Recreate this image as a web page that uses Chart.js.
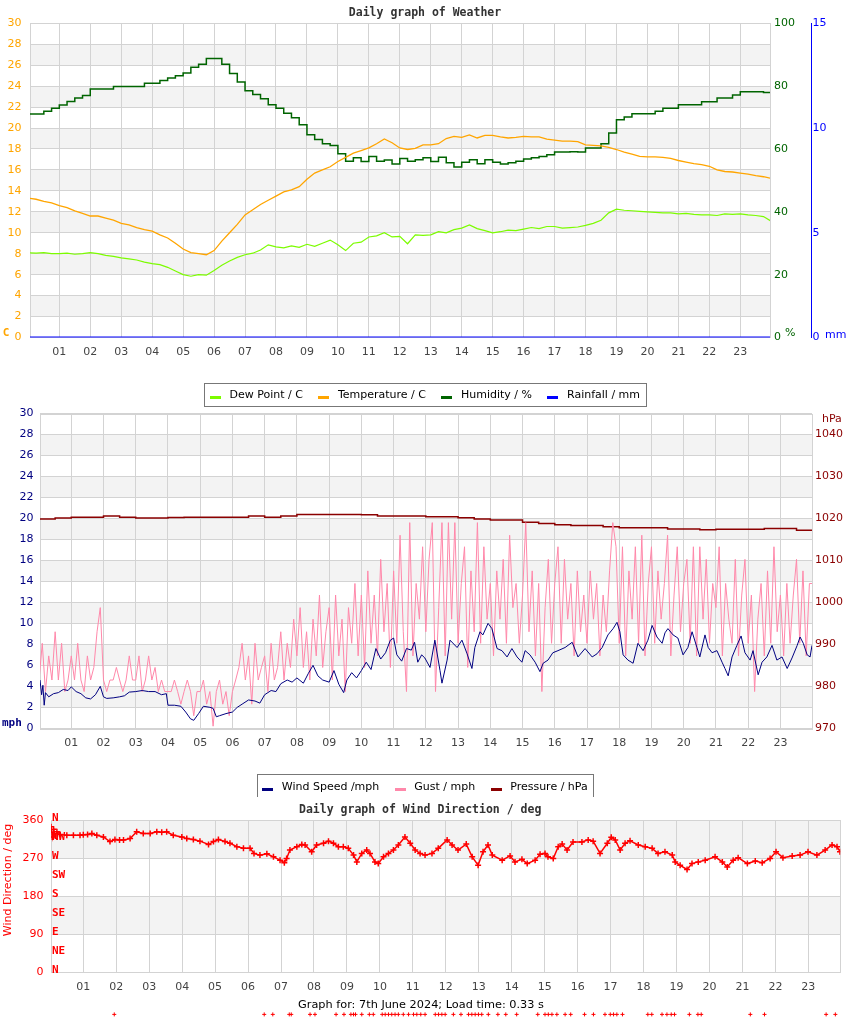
<!DOCTYPE html>
<html>
<head>
<meta charset="utf-8">
<script src="https://cdn.jsdelivr.net/npm/chart.js@4.4.1/dist/chart.umd.min.js"></script>
<style>
html,body{margin:0;padding:0;background:#fff;}
body{width:850px;height:1017px;position:relative;overflow:hidden;}
canvas{position:absolute;left:0;display:block;}
#c1{top:0;z-index:2;}
#c2{top:394px;z-index:1;}
#c3{top:797px;z-index:3;}
</style>
</head>
<body>
<canvas id="c1" width="850" height="411"></canvas>
<canvas id="c2" width="850" height="409"></canvas>
<canvas id="c3" width="850" height="220"></canvas>
<script>
// ---------------- DATA ----------------
const hourTicks = [1,2,3,4,5,6,7,8,9,10,11,12,13,14,15,16,17,18,19,20,21,22,23];
const hourLabels = ['01','02','03','04','05','06','07','08','09','10','11','12','13','14','15','16','17','18','19','20','21','22','23'];

// Weather chart: samples every 0.25 h from 00:00 to 24:00
const weatherStepHours = 0.25;
const temperature = [
  13.3,13.2,13.0,12.85, 12.6,12.4,12.1,11.85, 11.6,11.6,11.4,11.2, 10.9,10.75,10.5,10.3,
  10.15,9.8,9.5,9.0, 8.45,8.1,8.0,7.9, 8.3,9.2,10.0,10.8, 11.7,12.2,12.7,13.1,
  13.5,13.9,14.1,14.4, 15.1,15.7,16.0,16.3, 16.8,17.2,17.6,17.85, 18.1,18.5,18.95,18.6,
  18.1,17.95,18.05,18.4, 18.4,18.5,19.0,19.2, 19.1,19.35,19.05,19.3, 19.3,19.15,19.05,19.1,
  19.2,19.15,19.15,18.95, 18.85,18.75,18.75,18.7, 18.4,18.35,18.3,18.15, 17.95,17.7,17.5,17.3,
  17.25,17.25,17.2,17.1, 16.9,16.75,16.6,16.5, 16.35,16.0,15.85,15.8, 15.7,15.6,15.45,15.35, 15.2
];
const dewPoint = [
  8.1,8.05,8.1,8.0, 8.0,8.05,7.95,8.0, 8.1,8.0,7.85,7.75, 7.6,7.5,7.4,7.2,
  7.05,6.95,6.7,6.35, 6.0,5.85,6.0,5.95, 6.4,6.9,7.3,7.65, 7.9,8.05,8.35,8.85,
  8.65,8.55,8.75,8.6, 8.9,8.7,9.0,9.3, 8.85,8.3,9.0,9.1, 9.6,9.7,10.0,9.6,
  9.65,8.95,9.8,9.75, 9.8,10.1,10.0,10.3, 10.45,10.75,10.4,10.2, 10.0,10.1,10.25,10.2,
  10.35,10.5,10.4,10.6, 10.6,10.45,10.5,10.55, 10.7,10.9,11.2,11.9, 12.25,12.15,12.1,12.05,
  12.0,11.95,11.9,11.9, 11.8,11.85,11.75,11.7, 11.7,11.65,11.8,11.75, 11.8,11.7,11.65,11.55, 11.1
];
const humidity = [
  71.1,71.1,72.0,73.0, 74.0,75.1,76.2,77.0, 79.1,79.1,79.1,79.9, 79.9,79.9,79.9,80.9,
  80.9,81.8,82.6,83.3, 84.2,86.0,87.0,88.8, 88.8,87.0,84.0,81.3, 78.5,77.3,76.0,74.1,
  73.0,71.4,69.9,67.7, 64.5,63.0,61.7,61.1, 58.5,56.1,57.2,56.0, 57.6,56.1,56.5,55.2,
  57.0,56.1,56.6,57.2, 56.0,57.4,55.6,54.3, 55.8,56.6,55.3,56.6, 55.8,55.2,55.6,56.1,
  56.8,57.2,57.6,58.2, 59.0,59.0,59.1,59.0, 60.3,60.3,61.7,65.1, 69.3,70.2,71.2,71.2,
  71.2,72.0,73.0,73.0, 74.1,74.1,74.1,75.0, 75.0,76.2,76.2,77.2, 78.2,78.2,78.2,78.0, 76.0
];
const rainfallSamples = [[0,0],[24,0]];

// Wind chart
const windSpeedSamples = [
  [0.03,4.6],[0.08,3.2],[0.12,4.1],[0.16,2.2],[0.2,3.4],[0.3,3.0],[0.45,3.3],[0.6,3.4],[0.75,3.7],[0.9,3.6],
  [1.0,3.95],[1.15,3.5],[1.3,3.3],[1.45,2.9],[1.6,2.8],[1.75,3.2],[1.9,4.0],[2.0,3.0],[2.1,2.85],[2.3,2.9],
  [2.5,3.0],[2.65,3.1],[2.8,3.45],[3.0,3.5],[3.2,3.6],[3.4,3.5],[3.6,3.5],[3.8,3.2],[3.95,3.3],[4.0,2.2],
  [4.2,2.2],[4.4,2.1],[4.55,1.55],[4.7,0.9],[4.8,0.76],[4.95,1.4],[5.1,2.1],[5.3,2.0],[5.4,1.9],[5.5,1.1],
  [5.6,1.2],[5.8,1.4],[6.0,1.55],[6.15,2.0],[6.3,2.3],[6.5,2.7],[6.7,2.6],[6.85,2.4],[7.0,3.2],[7.2,3.6],
  [7.35,3.5],[7.5,4.25],[7.7,4.6],[7.85,4.4],[8.0,4.8],[8.2,4.3],[8.35,5.2],[8.5,6.0],[8.65,5.0],[8.8,4.6],
  [9.0,4.4],[9.15,5.5],[9.3,4.2],[9.45,3.4],[9.55,4.6],[9.7,5.3],[9.85,4.8],[10.0,5.5],[10.15,6.3],[10.3,5.6],
  [10.45,7.6],[10.6,6.6],[10.75,7.2],[10.9,8.4],[11.0,8.6],[11.1,7.0],[11.25,6.4],[11.4,7.6],[11.55,7.45],[11.65,8.2],
  [11.75,6.3],[11.87,7.0],[11.97,6.7],[12.13,5.8],[12.28,8.4],[12.44,5.5],[12.5,4.3],[12.66,6.5],[12.75,8.4],[12.97,7.7],
  [13.12,8.4],[13.28,7.1],[13.43,5.7],[13.52,7.7],[13.68,9.2],[13.77,8.9],[13.93,10.0],[14.05,9.5],[14.21,7.6],[14.36,7.4],
  [14.52,6.8],[14.67,7.6],[14.83,6.8],[14.98,6.3],[15.08,7.4],[15.23,7.0],[15.39,6.3],[15.54,5.4],[15.64,6.2],[15.79,6.5],
  [15.94,7.2],[16.1,7.4],[16.32,7.7],[16.54,8.2],[16.72,6.8],[16.94,7.6],[17.16,6.8],[17.31,7.1],[17.47,7.7],[17.65,8.9],
  [17.81,9.5],[17.93,10.1],[18.02,9.2],[18.12,7.0],[18.27,6.5],[18.43,6.2],[18.58,8.1],[18.74,7.4],[18.89,8.4],[19.02,9.8],
  [19.17,8.7],[19.33,8.1],[19.42,9.1],[19.51,9.5],[19.67,8.9],[19.82,8.6],[19.98,7.0],[20.13,7.7],[20.26,9.2],[20.41,7.7],
  [20.5,6.8],[20.66,8.9],[20.76,7.7],[20.88,7.2],[21.03,7.4],[21.19,6.3],[21.28,5.7],[21.38,5.0],[21.5,6.8],[21.65,7.9],
  [21.78,8.8],[21.9,7.2],[22.06,6.5],[22.15,7.4],[22.31,5.1],[22.43,6.3],[22.58,6.8],[22.74,7.9],[22.89,6.5],[23.05,6.8],
  [23.21,5.7],[23.36,6.7],[23.52,7.9],[23.61,8.7],[23.71,8.1],[23.83,7.0],[23.92,6.8],[23.98,7.9]
];
// Gust: samples every 0.1 h
const gustStepHours = 0.1;
const gust = [
  4.6,8.1,3.5,6.9,4.6,9.2,4.6,8.1,3.5,4.6,
  6.9,4.6,8.1,4.6,3.5,6.9,4.6,5.8,9.2,11.5,
  4.6,3.5,4.6,4.6,5.8,4.6,3.5,4.6,6.9,4.6,
  4.6,6.9,3.5,4.6,6.9,4.6,5.8,3.5,4.6,3.5,
  3.5,3.5,4.6,3.5,2.3,3.5,4.6,3.5,1.2,3.5,
  3.5,4.6,2.3,3.5,0.2,3.5,4.6,2.3,3.5,1.2,
  3.5,4.6,5.8,8.1,4.6,6.9,2.3,8.1,4.6,5.8,
  6.9,3.5,8.1,4.6,5.8,9.2,4.6,8.1,5.8,10.4,
  6.9,11.5,5.8,9.2,4.6,10.4,6.9,12.7,5.8,9.2,
  11.5,4.6,12.7,6.9,10.4,3.5,11.5,8.1,13.8,6.9,
  12.7,5.8,15.0,8.1,12.7,6.9,16.1,9.2,13.8,5.8,
  15.0,8.1,18.4,9.2,3.5,19.6,6.9,13.8,10.4,17.3,
  9.2,16.1,19.6,3.5,11.5,19.6,6.9,19.6,10.4,19.6,
  8.1,13.8,17.3,5.8,15.0,9.2,19.6,8.1,17.3,10.4,
  13.8,6.9,15.0,10.4,16.1,8.1,18.4,11.5,13.8,8.1,
  12.7,19.6,9.2,15.0,6.9,13.8,3.5,11.5,16.1,8.1,
  13.8,17.3,8.1,16.1,10.4,13.8,6.9,15.0,9.2,12.7,
  8.1,15.0,10.4,13.8,6.9,12.7,9.2,15.0,19.6,17.3,
  8.1,17.3,6.9,15.0,10.4,17.3,8.1,18.4,6.9,13.8,
  17.3,8.1,15.0,10.4,13.8,18.4,6.9,12.7,17.3,9.2,
  13.8,16.1,8.1,17.3,6.9,17.3,10.4,16.1,8.1,13.8,
  11.5,17.3,6.9,13.8,10.4,8.1,16.1,6.9,12.7,16.1,
  8.1,12.7,3.5,10.4,13.8,6.9,15.0,8.1,17.3,9.2,
  12.7,6.9,13.8,8.1,12.7,16.1,8.1,15.0,6.9,13.8,
  13.8
];
// Pressure: samples every 0.5 h
const pressureStepHours = 0.5;
const pressure = [
  1019.85,1020.1,1020.3,1020.3,1020.55,1020.3,1020.1,1020.1,1020.2,1020.3,
  1020.3,1020.3,1020.3,1020.55,1020.3,1020.6,1020.95,1020.95,1020.95,1020.95,
  1020.9,1020.6,1020.55,1020.55,1020.4,1020.4,1020.15,1019.85,1019.6,1019.6,
  1019.1,1018.8,1018.5,1018.3,1018.3,1018.0,1017.8,1017.8,1017.8,1017.5,
  1017.5,1017.3,1017.45,1017.45,1017.45,1017.6,1017.6,1017.2,1017.2
];
const pressureTicks = [970,980,990,1000,1010,1020,1030,1040];

// Wind direction chart
const windDirSamples = [
  [0.02,344],[0.06,320],[0.1,338],[0.15,322],[0.2,332],[0.3,326],[0.5,324],[0.7,324],[0.9,324],[1.0,325],
  [1.13,326],[1.26,328],[1.41,324],[1.61,320],[1.81,309],[1.96,314],[2.1,313],[2.22,313],[2.42,316],[2.62,332],
  [2.82,328],[3.03,328],[3.23,332],[3.38,331],[3.53,332],[3.73,324],[3.99,320],[4.14,316],[4.34,314],[4.54,310],
  [4.8,302],[4.95,309],[5.1,314],[5.3,309],[5.45,305],[5.66,297],[5.86,293],[6.06,293],[6.18,281],[6.36,277],
  [6.57,280],[6.77,273],[6.97,265],[7.1,259],[7.17,269],[7.27,289],[7.48,297],[7.63,302],[7.73,301],[7.93,285],
  [8.08,301],[8.29,305],[8.44,310],[8.59,305],[8.74,297],[8.89,297],[9.04,293],[9.2,277],[9.3,261],[9.45,281],
  [9.6,289],[9.7,281],[9.85,261],[9.95,257],[10.11,273],[10.26,281],[10.41,289],[10.56,301],[10.76,320],[10.92,305],
  [11.07,289],[11.22,281],[11.37,277],[11.58,281],[11.77,293],[12.04,313],[12.19,301],[12.37,289],[12.62,303],[12.8,273],
  [12.98,253],[13.13,285],[13.28,301],[13.41,277],[13.71,265],[13.95,275],[14.1,261],[14.31,267],[14.47,257],[14.71,265],
  [14.86,279],[15.01,281],[15.1,273],[15.26,269],[15.41,297],[15.53,303],[15.68,289],[15.86,308],[16.13,308],[16.32,313],
  [16.47,310],[16.68,281],[16.9,305],[17.02,319],[17.14,313],[17.29,289],[17.44,305],[17.59,311],[17.84,301],[18.05,297],
  [18.26,293],[18.44,281],[18.65,285],[18.87,277],[18.96,261],[19.11,253],[19.32,243],[19.47,257],[19.66,261],[19.87,265],
  [20.17,273],[20.39,261],[20.54,249],[20.72,265],[20.87,271],[21.15,257],[21.39,263],[21.6,259],[21.84,269],[22.02,285],
  [22.23,271],[22.51,275],[22.75,277],[22.99,285],[23.26,277],[23.51,289],[23.72,301],[23.87,297],[23.96,285]
];
// stray readings plotted below the axis in the original page
const strayDirValue = -99.5;
const strayDirHours = [
  1.94,6.49,6.75,7.25,7.31,7.88,8.03,8.67,8.91,9.12,9.2,9.26,9.45,9.68,9.8,10.07,10.16,10.26,10.36,10.46,
  10.56,10.71,10.87,11.02,11.12,11.24,11.37,11.68,11.78,11.88,11.98,12.23,12.46,12.69,12.79,12.89,12.99,13.09,
  13.29,13.58,13.82,14.15,14.79,15.01,15.11,15.22,15.37,15.62,15.79,16.21,16.48,16.83,16.99,17.09,17.19,17.36,
  18.13,18.25,18.56,18.71,18.84,18.94,19.39,19.65,19.75,21.24,21.67,23.54,23.82
];
const compassValues = [360,315,270,225,180,135,90,45,0];
const compassNames = ['N','NW','W','SW','S','SE','E','NE','N'];

// ---------------- HELPERS ----------------
const GRID = '#d3d3d3';
const MONO = '"DejaVu Sans Mono", monospace';
Chart.defaults.font.family = '"DejaVu Sans", sans-serif';
Chart.defaults.font.size = 11;
Chart.defaults.color = '#444';

const stepPts = (vals, step) => vals.map((v, i) => ({x: i * step, y: v}));
const pairPts = pairs => pairs.map(p => ({x: p[0], y: p[1]}));

function hourAxis(min, max, height) {
  return {
    type: 'linear', min: min, max: max,
    afterBuildTicks: s => { s.ticks = hourTicks.map(v => ({value: v})); },
    afterFit: s => { s.height = height; },
    ticks: {autoSkip: false, maxRotation: 0, padding: 8, color: '#444', font: {size: 11},
            callback: (v, i) => hourLabels[i]},
    grid: {color: GRID, drawTicks: false},
    border: {display: false}
  };
}
function legendLabels(chart) {
  const items = Chart.defaults.plugins.legend.labels.generateLabels(chart);
  items.forEach(it => { it.swatch = it.strokeStyle; it.fillStyle = 'rgba(0,0,0,0)'; it.strokeStyle = 'rgba(0,0,0,0)'; it.lineWidth = 0; });
  return items;
}

const decor = {
  id: 'decor',
  beforeDraw(chart, args, o) {
    const ctx = chart.ctx, a = chart.chartArea;
    ctx.save();
    if (o.background) { ctx.fillStyle = o.background; ctx.fillRect(0, 0, chart.width, chart.height); }
    const ys = chart.scales[o.bandScale];
    if (ys) {
      ctx.fillStyle = '#f3f3f3';
      for (let i = 1; i + 1 < ys.ticks.length; i += 2) {
        const p1 = ys.getPixelForValue(ys.ticks[i].value), p2 = ys.getPixelForValue(ys.ticks[i + 1].value);
        ctx.fillRect(a.left, Math.min(p1, p2), a.right - a.left, Math.abs(p2 - p1));
      }
    }
    const lg = chart.legend;
    if (o.boxUp && lg && lg.options.display && lg.legendHitBoxes && lg.legendHitBoxes.length) {
      const hb = lg.legendHitBoxes, last = hb[hb.length - 1];
      const cy = hb[0].top + hb[0].height / 2;
      const l = Math.round(hb[0].left - 5.5) + 0.5;
      const r = Math.round(last.left + last.width + 5.5) + 0.5;
      const t = Math.round(cy - o.boxUp) + 0.5;
      const b = Math.round(cy + o.boxDown) + 0.5;
      ctx.fillStyle = '#fff'; ctx.fillRect(l, t, r - l, b - t);
      ctx.strokeStyle = '#777'; ctx.lineWidth = 1; ctx.strokeRect(l, t, r - l, b - t);
    }
    ctx.restore();
  },
  beforeDatasetsDraw(chart, args, o) {
    const ctx = chart.ctx, a = chart.chartArea;
    ctx.save();
    ctx.strokeStyle = GRID; ctx.lineWidth = 1;
    ctx.strokeRect(Math.round(a.left) + 0.5, Math.round(a.top) + 0.5, Math.round(a.right - a.left), Math.round(a.bottom - a.top));
    if (o.compass) {
      const ys = chart.scales[o.bandScale];
      ctx.fillStyle = '#FF0000';
      ctx.font = 'bold 11px ' + MONO;
      ctx.textAlign = 'left'; ctx.textBaseline = 'middle';
      compassValues.forEach((v, i) => ctx.fillText(compassNames[i], a.left + 1, ys.getPixelForValue(v) - 2));
    }
    ctx.restore();
  },
  afterDatasetsDraw(chart, args, o) {
    if (o.strayDataset === undefined) return;
    const meta = chart.getDatasetMeta(o.strayDataset);
    const full = {left: 0, top: 0, right: chart.width, bottom: chart.height};
    chart.ctx.save();
    meta.data.forEach(el => el.draw(chart.ctx, full));
    chart.ctx.restore();
  },
  afterDraw(chart, args, o) {
    const ctx = chart.ctx;
    ctx.save();
    const lg = chart.legend;
    if (lg && lg.options.display && lg.legendHitBoxes) {
      lg.legendHitBoxes.forEach((hb, i) => {
        const it = lg.legendItems[i];
        ctx.fillStyle = it.swatch;
        ctx.fillRect(Math.round(hb.left), Math.round(hb.top + hb.height / 2), 11, 3);
      });
    }
    (o.texts || []).forEach(t => {
      ctx.save();
      ctx.fillStyle = t.c; ctx.font = t.f; ctx.textAlign = t.a; ctx.textBaseline = 'middle';
      ctx.translate(t.x, t.y);
      if (t.r) ctx.rotate(t.r * Math.PI / 180);
      ctx.fillText(t.t, 0, 0);
      ctx.restore();
    });
    ctx.restore();
  }
};
Chart.register(decor);

const common = {
  responsive: false, animation: false, devicePixelRatio: 1,
  events: [],
  elements: {point: {radius: 0}, line: {tension: 0}}
};
const titleFont = {family: MONO, weight: 'bold', size: 11.5};
const legendCfg = {position: 'bottom', labels: {boxWidth: 14, boxHeight: 3, padding: 15.5, color: '#000', font: {size: 11}, generateLabels: legendLabels}};

// ---------------- CHART 1: Weather ----------------
new Chart(document.getElementById('c1'), {
  type: 'line',
  data: {datasets: [
    {label: 'Dew Point / C', data: stepPts(dewPoint, weatherStepHours), borderColor: '#7CFC00', backgroundColor: '#7CFC00', borderWidth: 1.2, yAxisID: 'yT'},
    {label: 'Temperature / C', data: stepPts(temperature, weatherStepHours), borderColor: '#FFA500', backgroundColor: '#FFA500', borderWidth: 1.3, yAxisID: 'yT'},
    {label: 'Humidity / %', data: stepPts(humidity, weatherStepHours), borderColor: '#006400', backgroundColor: '#006400', borderWidth: 1.5, stepped: true, yAxisID: 'yH'},
    {label: 'Rainfall / mm', data: pairPts(rainfallSamples), borderColor: '#0000FF', backgroundColor: '#0000FF', borderWidth: 2, yAxisID: 'yR'}
  ]},
  options: Object.assign({}, common, {
    layout: {padding: 0},
    plugins: {
      title: {display: true, text: 'Daily graph of Weather', color: '#333', font: titleFont, padding: {top: 6.1, bottom: 3.4}},
      legend: legendCfg,
      tooltip: {enabled: false},
      decor: {bandScale: 'yT', boxUp: 12.5, boxDown: 10.5, texts: [
        {t: 'C', x: 6, y: 333, c: '#FFA500', f: 'bold 11px ' + MONO, a: 'center'},
        {t: '%', x: 785, y: 333, c: '#006400', f: '11px "DejaVu Sans"', a: 'left'},
        {t: 'mm', x: 825, y: 335, c: '#0000FF', f: '11px "DejaVu Sans"', a: 'left'}
      ]}
    },
    scales: {
      x: hourAxis(0.053, 23.96, 37),
      yT: {position: 'left', min: 0, max: 30, ticks: {stepSize: 2, color: '#FFA500', padding: 8.5}, grid: {color: GRID, drawTicks: false}, border: {display: false}, afterFit: s => { s.width = 30; }},
      yH: {position: 'right', min: 0, max: 100, ticks: {stepSize: 20, color: '#006400', padding: 4}, grid: {drawOnChartArea: false, drawTicks: false}, border: {display: false}, afterFit: s => { s.width = 41; }},
      yR: {position: 'right', min: 0, max: 15, ticks: {stepSize: 5, color: '#0000FF', padding: 1.5}, grid: {drawOnChartArea: false, drawTicks: false}, border: {display: true, color: '#0000FF', width: 1}, afterFit: s => { s.width = 39; }}
    }
  })
});

// ---------------- CHART 2: Wind / Pressure ----------------
new Chart(document.getElementById('c2'), {
  type: 'line',
  data: {datasets: [
    {label: 'Wind Speed /mph', data: pairPts(windSpeedSamples), borderColor: '#000080', backgroundColor: '#000080', borderWidth: 1, yAxisID: 'yW'},
    {label: 'Gust / mph', data: stepPts(gust, gustStepHours), borderColor: '#FF88AA', backgroundColor: '#FF88AA', borderWidth: 1, yAxisID: 'yW'},
    {label: 'Pressure / hPa', data: stepPts(pressure, pressureStepHours), borderColor: '#8B0000', backgroundColor: '#8B0000', borderWidth: 1.5, stepped: true, yAxisID: 'yP'}
  ]},
  options: Object.assign({}, common, {
    layout: {padding: 0},
    plugins: {
      title: {display: true, text: 'Daily graph of Wind', color: '#333', font: titleFont, padding: {top: 0, bottom: 5.7}},
      legend: legendCfg,
      tooltip: {enabled: false},
      decor: {bandScale: 'yW', boxUp: 14, boxDown: 13, texts: [
        {t: 'mph', x: 2, y: 329, c: '#000080', f: 'bold 11px ' + MONO, a: 'left'},
        {t: 'hPa', x: 822, y: 25, c: '#8B0000', f: '11px "DejaVu Sans"', a: 'left'}
      ]}
    },
    scales: {
      x: hourAxis(0.03, 23.98, 38.2),
      yW: {position: 'left', min: 0, max: 30, ticks: {stepSize: 2, color: '#000080', padding: 6.5}, grid: {color: GRID, drawTicks: false}, border: {display: false}, afterFit: s => { s.width = 40; }},
      yP: {position: 'right', min: 970, max: 1045, afterBuildTicks: s => { s.ticks = pressureTicks.map(v => ({value: v})); },
           ticks: {color: '#8B0000', padding: 3, callback: v => String(v)}, grid: {drawOnChartArea: false, drawTicks: false}, border: {display: false}, afterFit: s => { s.width = 38; }}
    }
  })
});

// ---------------- CHART 3: Wind Direction ----------------
new Chart(document.getElementById('c3'), {
  type: 'line',
  data: {datasets: [
    {label: 'Wind Direction / deg', data: pairPts(windDirSamples), borderColor: '#FF0000', backgroundColor: '#FF0000', borderWidth: 1.5,
     pointStyle: 'cross', pointRadius: 3, pointBorderWidth: 1.5, pointBorderColor: '#FF0000', yAxisID: 'yD'},
    {label: 'stray', data: strayDirHours.map(h => ({x: h, y: strayDirValue})), showLine: false, clip: false,
     pointStyle: 'cross', pointRadius: 2, pointBorderWidth: 1, pointBorderColor: '#FF0000', borderColor: '#FF0000', yAxisID: 'yD'}
  ]},
  options: Object.assign({}, common, {
    layout: {padding: {right: 9.7}},
    plugins: {
      title: {display: true, text: 'Daily graph of Wind Direction / deg', color: '#333', font: titleFont, padding: {top: 6.1, bottom: 3.1}},
      legend: {display: false},
      tooltip: {enabled: false},
      decor: {bandScale: 'yD', background: '#ffffff', compass: true, strayDataset: 1, texts: [
        {t: 'Wind Direction / deg', x: 8, y: 83, c: '#FF0000', f: '11px "DejaVu Sans"', a: 'center', r: -90},
        {t: 'Graph for: 7th June 2024; Load time: 0.33 s', x: 421, y: 208, c: '#000', f: '11.3px "DejaVu Sans"', a: 'center'}
      ]}
    },
    scales: {
      x: hourAxis(0.02, 23.97, 44.7),
      yD: {position: 'left', min: 0, max: 360, ticks: {stepSize: 90, color: '#FF0000', padding: 7.5}, grid: {color: GRID, drawTicks: false}, border: {display: false}, afterFit: s => { s.width = 51; }}
    }
  })
});
</script>
</body>
</html>
